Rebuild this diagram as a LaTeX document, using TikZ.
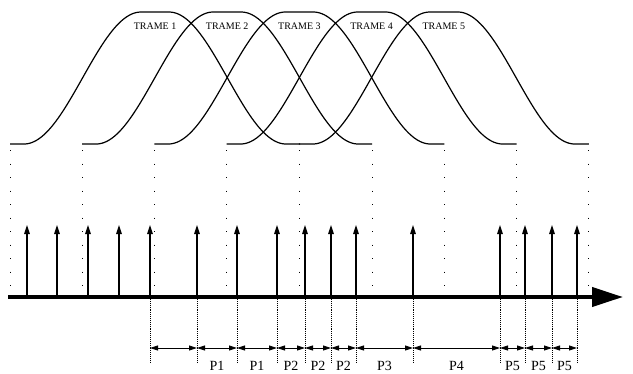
\documentclass[tikz,border=0pt]{standalone}
\usepackage{fontspec}
\setmainfont{Liberation Serif}
\usetikzlibrary{arrows.meta}
\begin{document}
\begin{tikzpicture}[x=1pt,y=-1pt,
  declare function={prof(\d)=0.5*(1+cos(180*min(max((\d-14)/117,0),1)));},
  curve/.style={line width=1.2pt},
  sparsedots/.style={line width=0.9pt,dash pattern=on 0.9pt off 12.6pt},
  densedots/.style={line width=0.8pt,dash pattern=on 0.8pt off 1.1pt},
  impulse/.style={line width=1.3pt,-{Triangle[length=9pt,width=5.5pt]}},
  timeaxis/.style={line width=4pt,-{Triangle[length=31pt,width=19pt]}},
  dimline/.style={line width=0.9pt,{Triangle[length=8pt,width=5pt]}-{Triangle[length=8pt,width=5pt]}},
  framelabel/.style={font=\fontsize{10}{12}\selectfont,inner sep=0pt},
  plabel/.style={font=\fontsize{14}{16}\selectfont,inner sep=0pt,anchor=base}]
\useasboundingbox (0,0) rectangle (633,373);

% frame windows
\foreach \c [count=\i] in {155,227.2,299.4,371.6,443.8}{
  \draw[curve] plot[domain=-145:145,samples=146] ({\c+\x},{144-132*prof(abs(\x))});
  \node[framelabel] (t\i) at (\c,26) {TRAME \i};
}

% window boundaries projected on the time axis
\foreach \u [count=\i] in {10,82.2,154.4,226.6,299.4,372.2,444.4,516.6,588.8}{
  \coordinate (ua\i) at (\u,150);
  \coordinate (ub\i) at (\u,293);
  \draw[sparsedots] (ua\i) -- (ub\i);
}

% time axis
\coordinate (ax0) at (8,297);
\coordinate (ax1) at (623,297);
\draw[timeaxis] (ax0) -- (ax1);

% pulses
\foreach \p [count=\i] in {27,57,88,119,150,197,237,277,305,331,356,413,500,525,552,577}{
  \coordinate (pb\i) at (\p,297);
  \coordinate (pt\i) at (\p,225);
  \draw[impulse] (pb\i) -- (pt\i);
}

% period markers below the axis
\foreach \p [count=\i] in {150,197,237,277,305,331,356,413,500,525,552,577}{
  \coordinate (da\i) at (\p,299);
  \coordinate (db\i) at (\p,363);
  \coordinate (dm\i) at (\p,348);
  \draw[densedots] (da\i) -- (db\i);
}

\draw[dimline] (dm1) -- (dm2);
\foreach \a/\b/\t in {2/3/P1,3/4/P1,4/5/P2,5/6/P2,6/7/P2,7/8/P3,8/9/P4,9/10/P5,10/11/P5,11/12/P5}{
  \draw[dimline] (dm\a) -- (dm\b);
  \path (dm\a) -- (dm\b) node[midway,yshift=-22.5pt,plabel] (l\a) {\t};
}
\end{tikzpicture}
\end{document}
